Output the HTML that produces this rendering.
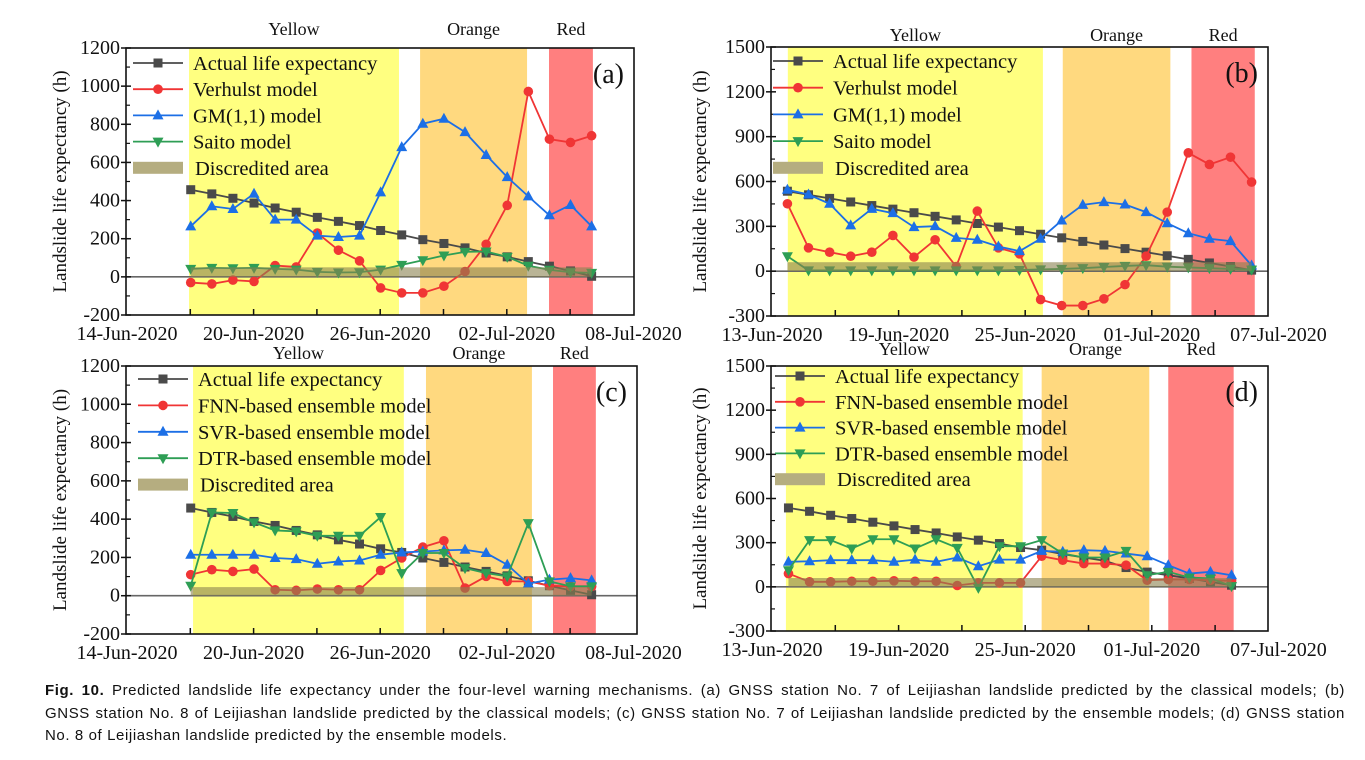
<!DOCTYPE html>
<html><head><meta charset="utf-8"><style>
html,body{margin:0;padding:0;background:#fff;width:1365px;height:760px;overflow:hidden}
svg{display:block}
.cap{position:absolute;left:45px;width:1300px;font-family:"Liberation Sans",sans-serif;font-size:15px;letter-spacing:0.6px;color:#111;white-space:nowrap;text-align:justify;text-align-last:justify}
.cap.last{text-align-last:left}
</style></head><body>
<svg id="fig" width="1365" height="760" xmlns="http://www.w3.org/2000/svg"></svg>
<div class="cap" style="top:682px"><b>Fig. 10.</b> Predicted landslide life expectancy under the four-level warning mechanisms. (a) GNSS station No. 7 of Leijiashan landslide predicted by the classical models; (b)</div>
<div class="cap" style="top:705px">GNSS station No. 8 of Leijiashan landslide predicted by the classical models; (c) GNSS station No. 7 of Leijiashan landslide predicted by the ensemble models; (d) GNSS station</div>
<div class="cap last" style="top:727px">No. 8 of Leijiashan landslide predicted by the ensemble models.</div>
<script>
// ---- data ----
const dateTicksAC = ["14-Jun-2020","20-Jun-2020","26-Jun-2020","02-Jul-2020","08-Jul-2020"];
const dateTicksBD = ["13-Jun-2020","19-Jun-2020","25-Jun-2020","01-Jul-2020","07-Jul-2020"];
const seriesNamesAB = ["Actual life expectancy","Verhulst model","GM(1,1) model","Saito model"];
const seriesNamesCD = ["Actual life expectancy","FNN-based ensemble model","SVR-based ensemble model","DTR-based ensemble model"];
const bandNames = ["Yellow","Orange","Red"];

const aActual = [457,435,412,387,361,339,312,291,269,243,220,195,175,152,125,105,80,56,31,3];
const aVerhulst = [-30,-37,-17,-24,59,52,230,140,84,-58,-84,-84,-49,28,171,375,972,722,705,740];
const aGM = [265,370,356,436,300,300,216,209,216,443,680,803,829,759,639,523,422,323,377,265];
const aSaito = [42,47,45,47,42,38,26,23,24,38,63,87,112,131,133,105,58,37,24,21];

const bActual = [535,511,487,463,439,415,391,367,343,319,295,271,247,223,199,175,151,127,103,79,55,31,7];
const bVerhulst = [451,156,127,100,127,239,94,210,31,402,156,116,-190,-230,-230,-185,-90,100,395,792,714,763,596];
const bGM = [545,513,451,306,417,388,295,301,223,210,165,134,217,339,444,462,446,395,321,254,217,201,38];
const bSaito = [100,5,5,5,5,5,5,5,5,5,5,8,12,15,20,28,35,40,30,25,20,15,10];

const cActual = [458,435,414,388,367,341,318,292,270,245,226,197,174,150,127,104,78,52,28,5];
const cFNN = [110,136,127,139,31,28,35,31,31,132,197,254,287,40,101,75,75,52,49,49];
const cSVR = [214,214,214,214,197,191,167,179,184,214,226,231,237,240,223,162,63,84,92,80];
const cDTR = [52,435,432,383,341,336,313,313,313,411,118,223,223,144,118,101,379,75,49,49];

const dActual = [536,513,486,464,439,414,389,366,339,317,294,267,249,222,199,176,131,100,79,57,34,11];
const dFNN = [90,34,34,38,38,41,38,38,9,27,27,27,208,181,158,158,147,45,50,50,45,41];
const dSVR = [170,174,181,181,181,170,185,170,199,140,185,185,244,238,249,244,226,208,147,90,102,79];
const dDTR = [113,317,317,260,323,323,260,323,265,-7,276,276,317,226,199,199,244,79,102,63,57,5];

// bands in day units [start,end]
const aBands = [[2.94,12.89],[13.89,18.96],[20.0,22.08]];
const bBands = [[0.75,12.84],[13.78,18.88],[19.88,22.88]];
const cBands = [[3.13,13.12],[14.17,19.19],[20.19,22.22]];
const dBands = [[0.66,11.88],[12.78,17.88],[18.78,21.88]];
const discredited = [50,60,45,60];

// ---- drawing ----
const NS="http://www.w3.org/2000/svg";
const svg=document.getElementById('fig');
function mk(tag,attrs,parent){const e=document.createElementNS(NS,tag);for(const k in attrs)e.setAttribute(k,attrs[k]);(parent||svg).appendChild(e);return e;}
const colors=["#4a4a4a","#f03535","#1c6fe6","#2e9e55"];
const markers=["square","circle","tri","tridown"];
const SERIF='Liberation Serif, serif';
function marker(g,type,x,y,c){
  let e;
  if(type==="square"){e=mk('rect',{x:x-4.5,y:y-4.5,width:9,height:9,fill:c},g);}
  else if(type==="circle"){e=mk('circle',{cx:x,cy:y,r:4.8,fill:c},g);}
  else if(type==="tri"){e=mk('polygon',{points:`${x},${y-6} ${x-5.5},${y+4} ${x+5.5},${y+4}`,fill:c},g);}
  else {e=mk('polygon',{points:`${x},${y+6} ${x-5.5},${y-4} ${x+5.5},${y-4}`,fill:c},g);}
  
  
}
function panel(p){
  const g=mk('g',{});
  
  
  const xs=d=>p.x0+21.1*d;
  const ys=v=>p.bottom-(v-p.ymin)/(p.ymax-p.ymin)*(p.bottom-p.top);
  const bandCols=["#ffff80","#ffd97f","#ff7f7f"];
  p.bands.forEach((b,i)=>{
    const r=mk('rect',{x:xs(b[0]),y:p.top,width:xs(b[1])-xs(b[0]),height:p.bottom-p.top,fill:bandCols[i]},g);
    
    
    const t=mk('text',{x:(xs(b[0])+xs(b[1]))/2,y:p.bandLabelY,'font-family':SERIF,'font-size':18,'text-anchor':'middle',fill:'#111'},g);
    t.textContent=bandNames[i];
    
    
  });
  const z=mk('line',{x1:p.left,x2:p.right,y1:ys(0),y2:ys(0),stroke:'#666','stroke-width':1.6},g);
  
  
  p.series.forEach((s,k)=>{
    const pts=s.map((v,i)=>xs(p.first+i)+','+ys(v)).join(' ');
    const l=mk('polyline',{points:pts,fill:'none',stroke:colors[k],'stroke-width':1.8},g);
    
    
    s.forEach((v,i)=>marker(g,markers[k],xs(p.first+i),ys(v),colors[k]));
  });
  const n=p.series[0].length;
  const da=mk('rect',{x:xs(p.first),y:ys(p.disc),width:xs(p.first+n-1)-xs(p.first),height:ys(0)-ys(p.disc),fill:'#8a8250','fill-opacity':0.6},g);
  
  
  const f=mk('rect',{x:p.left,y:p.top,width:p.right-p.left,height:p.bottom-p.top,fill:'none',stroke:'#111','stroke-width':1.6},g);
  
  
  for(let v=p.ymin;v<=p.ymax;v+=p.ystep){
    mk('line',{x1:p.left-5,x2:p.left+5,y1:ys(v),y2:ys(v),stroke:'#111','stroke-width':1.5},g);
    if(v+p.ystep/2<p.ymax) mk('line',{x1:p.left,x2:p.left+4,y1:ys(v+p.ystep/2),y2:ys(v+p.ystep/2),stroke:'#111','stroke-width':1.2},g);
    const t=mk('text',{x:p.left-6,y:ys(v)+6,'font-family':SERIF,'font-size':20,'text-anchor':'end',fill:'#111'},g);
    t.textContent=v;
    
    
  }
  for(let d=3;d<24;d+=3){
    const x=xs(d);
    if(x<p.right-2) mk('line',{x1:x,x2:x,y1:p.bottom,y2:p.bottom-6,stroke:'#111','stroke-width':1.5},g);
  }
  p.ticks.forEach((lab,i)=>{
    const x=xs(i*6);
    const t=mk('text',{x:x,y:p.bottom+25,'font-family':SERIF,'font-size':20,'text-anchor':'middle',fill:'#111'},g);
    t.textContent=lab;
    
    
  });
  const yt=mk('text',{x:0,y:0,transform:`translate(${p.ytitleX},${(p.top+p.bottom)/2}) rotate(-90)`,'font-family':SERIF,'font-size':19,'text-anchor':'middle',fill:'#111'},g);
  yt.textContent='Landslide life expectancy (h)';
  
  
  const names=p.names.concat(['Discredited area']);
  names.forEach((nm,k)=>{
    const y=p.legY+k*p.legStep;
    if(k<4){
      mk('line',{x1:p.legX,x2:p.legX+50,y1:y,y2:y,stroke:colors[k],'stroke-width':1.8},g);
      marker(g,markers[k],p.legX+25,y,colors[k]);
    } else {
      const r=mk('rect',{x:p.legX,y:y-6,width:50,height:12,fill:'#b5ad80'},g);
      
      
    }
    const t=mk('text',{x:p.legX+(k<4?60:62),y:y+7,'font-family':SERIF,'font-size':20.5,fill:'#111'},g);
    t.textContent=nm;
    
    
  });
  const pl=mk('text',{x:p.right-10,y:p.top+35,'font-family':SERIF,'font-size':28,'text-anchor':'end',fill:'#111'},g);
  pl.textContent='('+p.id+')';
  
  
}
panel({id:'a',left:126,right:634,top:48,bottom:315,ymin:-200,ymax:1200,ystep:200,x0:127,first:3.02,bands:aBands,bandLabelY:35,series:[aActual,aVerhulst,aGM,aSaito],disc:discredited[0],ticks:dateTicksAC,names:seriesNamesAB,legX:133,legY:63,legStep:26.2,ytitleX:66});
panel({id:'b',left:771,right:1268,top:47,bottom:316,ymin:-300,ymax:1500,ystep:300,x0:772,first:0.73,bands:bBands,bandLabelY:41,series:[bActual,bVerhulst,bGM,bSaito],disc:discredited[1],ticks:dateTicksBD,names:seriesNamesAB,legX:773,legY:61,legStep:26.7,ytitleX:706});
panel({id:'c',left:126,right:637,top:366,bottom:634,ymin:-200,ymax:1200,ystep:200,x0:127,first:3.02,bands:cBands,bandLabelY:359,series:[cActual,cFNN,cSVR,cDTR],disc:discredited[2],ticks:dateTicksAC,names:seriesNamesCD,legX:138,legY:379,legStep:26.4,ytitleX:66});
panel({id:'d',left:771,right:1268,top:366,bottom:631,ymin:-300,ymax:1500,ystep:300,x0:772,first:0.78,bands:dBands,bandLabelY:355,series:[dActual,dFNN,dSVR,dDTR],disc:discredited[3],ticks:dateTicksBD,names:seriesNamesCD,legX:775,legY:376,legStep:25.8,ytitleX:706});
</script>
</body></html>
